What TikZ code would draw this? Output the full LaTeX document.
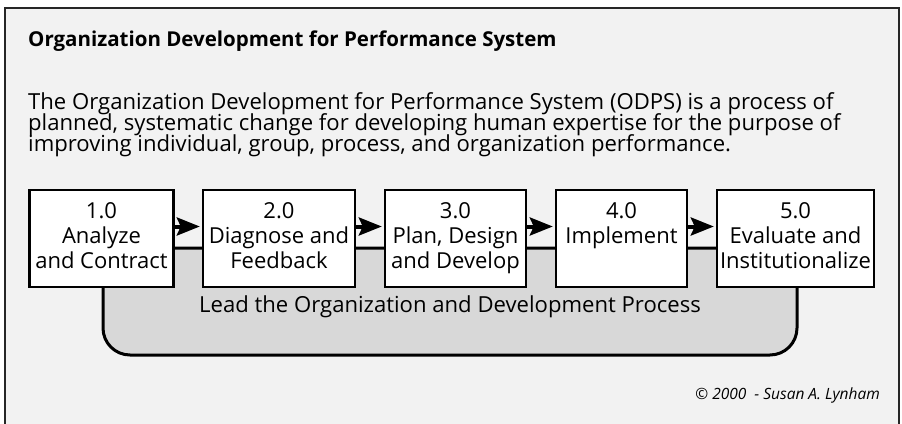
\documentclass[tikz,border=0pt]{standalone}
\usepackage{fontspec}
\setmainfont{Open Sans}
\usetikzlibrary{arrows.meta,positioning}
\definecolor{panel}{HTML}{F2F2F2}
\definecolor{bandgray}{HTML}{D8D8D8}
\newcommand{\mainsize}{\fontsize{22.1}{21}\selectfont\lineskiplimit=-20pt}
\newcommand{\boxsize}{\fontsize{22}{25.3}\selectfont\lineskiplimit=-20pt}

\begin{document}
\begin{tikzpicture}[x=1pt,y=-1pt,>={Stealth[length=23pt,width=18pt,inset=4pt]},
 stepbox/.style={draw,line width=2.4pt,fill=white,inner sep=0pt,minimum height=97pt,
  align=center,font=\boxsize,
  execute at begin node={\rule{0pt}{22pt}},execute at end node={\rule[-6pt]{0pt}{6pt}}},
 link/.style={->,line width=4pt,shorten >=2pt}]
 \useasboundingbox(0,0)rectangle(902,423);
 % panel and texts
 \draw[black!85,line width=1.8pt,fill=panel](5,8)rectangle(899,440);
 \node[anchor=base west,inner sep=0pt,font=\fontsize{20.5}{25}\selectfont\bfseries](title)at(28,46.7)
  {Organization Development for Performance System};
 \node[anchor=north west,inner sep=0pt,align=left,font=\mainsize](intro)at(28,91.3)
  {\rule{0pt}{18pt}The Organization Development for Performance System (ODPS) is a process of\\
   planned, systematic change for developing human expertise for the purpose of\\
   improving individual, group, process, and organization performance.};
 % lead band behind the steps
 \draw[line width=3pt,fill=bandgray,rounded corners=27pt](103,248)rectangle(797,355);
 \node[anchor=base,inner sep=0pt,font=\mainsize](lead)at(450,312)
  {Lead the Organization and Development Process};
 % the five steps
 \node[stepbox,minimum width=144pt](s1)at(101.5,238.5){1.0\\Analyze\\and Contract};
 \node[stepbox,minimum width=152pt](s2)at(279,238.5){2.0\\Diagnose and\\Feedback};
 \node[stepbox,minimum width=141pt](s3)at(455.5,238.5){3.0\\Plan, Design\\and Develop};
 \node[stepbox,minimum width=131pt](s4)at(621.5,238.5){4.0\\Implement\\};
 \node[stepbox,minimum width=157pt](s5)at(795.5,238.5){5.0\\Evaluate and\\Institutionalize};
 \foreach \a/\b in {s1/s2,s2/s3,s3/s4,s4/s5}
  \draw[link]([yshift=12pt]\a.east)--([yshift=12pt]\b.west);
 \node[anchor=base east,inner sep=0pt,font=\fontsize{15.5}{18}\selectfont\itshape](credit)at(880,399)
  {© 2000\ \ - Susan A. Lynham};
\end{tikzpicture}
\end{document}
